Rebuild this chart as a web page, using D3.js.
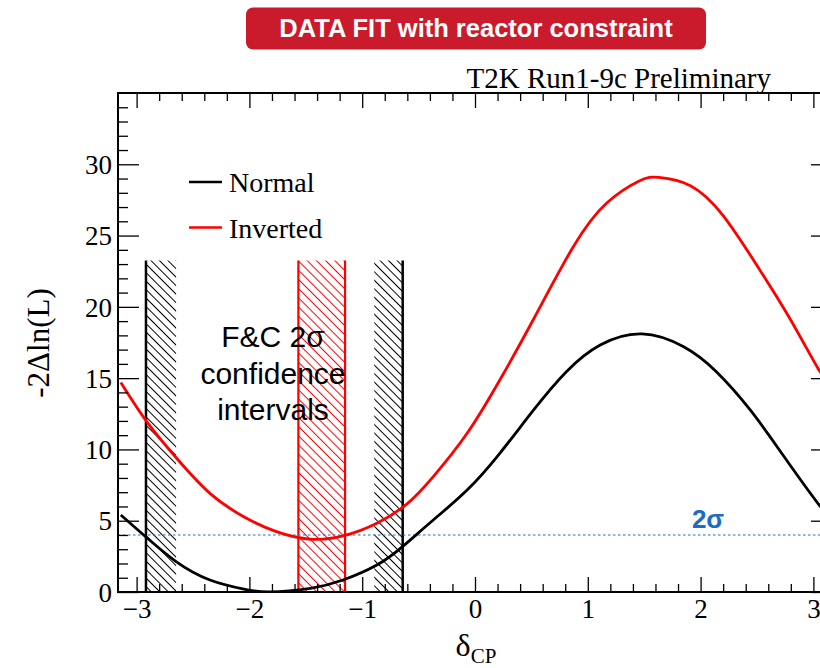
<!DOCTYPE html>
<html>
<head>
<meta charset="utf-8">
<script src="https://cdn.jsdelivr.net/npm/d3@7/dist/d3.min.js"></script>
<style>
  html, body { margin: 0; padding: 0; background: #fff; }
  svg { display: block; }
</style>
</head>
<body>
<svg id="chart" width="820" height="668"></svg>
<script>
// ---------------- DATA ----------------
const deltaNormal = [-3.14, -2.92, -2.65, -2.35, -2.05, -1.82, -1.46, -1.17, -0.87, -0.64, -0.37, -0.07, 0.22, 0.52, 0.81, 1.11, 1.48, 1.85, 2.14, 2.44, 2.73, 3.04, 3.14];
const chi2Normal  = [5.4, 3.88, 2.13, 0.84, 0.2, 0.0, 0.26, 0.84, 1.89, 3.2, 5.05, 7.15, 9.73, 12.77, 15.45, 17.32, 18.1, 17.2, 15.45, 12.77, 9.61, 6.22, 5.4];

const deltaInverted = [-3.14, -2.91, -2.645, -2.35, -2.05, -1.76, -1.46, -1.17, -0.87, -0.6, -0.37, -0.07, 0.22, 0.52, 0.87, 1.17, 1.46, 1.63, 1.91, 2.2, 2.5, 2.79, 3.04, 3.14];
const chi2Inverted  = [14.7, 11.95, 9.38, 6.92, 5.28, 4.23, 3.7, 3.93, 4.82, 6.2, 8.09, 11.13, 14.87, 19.15, 24.2, 27.3, 28.85, 29.08, 28.5, 26.4, 22.9, 19.2, 15.7, 14.7];

// F&C 2 sigma intervals: [boundary, hatch inner edge]
const normalBandLeft  = [-2.917, -2.65];
const normalBandRight = [-0.893, -0.641];
const invertedBand    = [-1.566, -1.152];
const bandTop = 23.25;

const sigmaLevel = 4;
const xTicks = [-3, -2, -1, 0, 1, 2, 3];
const yTicks = [0, 5, 10, 15, 20, 25, 30];
const seriesNames = ["Normal", "Inverted"];
const seriesColors = ["#000000", "#ff0000"];

// ---------------- LAYOUT ----------------
const svg = d3.select("#chart");
const pLeft = 118, pRight = 832, pTop = 93, pBottom = 592;
const x = d3.scaleLinear().domain([-3.165, 3.165]).range([pLeft, pRight]);
const y = d3.scaleLinear().domain([0, 35]).range([pBottom, pTop]);

const defs = svg.append("defs");
defs.append("clipPath").attr("id", "clip").append("rect")
  .attr("x", pLeft).attr("y", pTop).attr("width", pRight - pLeft).attr("height", pBottom - pTop);

function hatch(id, color, spacing) {
  const p = defs.append("pattern").attr("id", id)
    .attr("patternUnits", "userSpaceOnUse")
    .attr("width", spacing).attr("height", spacing)
    .attr("patternTransform", "rotate(-45)");
  p.append("line").attr("x1", 0.5).attr("y1", 0).attr("x2", 0.5).attr("y2", spacing)
    .attr("stroke", color).attr("stroke-width", 1);
}
hatch("hatchBlack", "#000", 6);
hatch("hatchRed", "#ff0000", 6.5);

// ---------------- TITLE BANNER ----------------
svg.append("rect").attr("x", 246).attr("y", 7.5).attr("width", 460).attr("height", 42)
  .attr("rx", 7).attr("fill", "#c91b2b");
svg.append("text").attr("x", 476).attr("y", 37).attr("text-anchor", "middle")
  .attr("font-family", "Liberation Sans, Arial, sans-serif").attr("font-weight", "bold")
  .attr("font-size", 25.5).attr("fill", "#fff").text("DATA FIT with reactor constraint");

svg.append("text").attr("x", 771).attr("y", 88).attr("text-anchor", "end")
  .attr("font-family", "Liberation Serif, Times New Roman, serif")
  .attr("font-size", 29).attr("fill", "#000").text("T2K Run1-9c Preliminary");

const plot = svg.append("g").attr("clip-path", "url(#clip)");

// ---------------- BANDS ----------------
function band(range, fill) {
  plot.append("rect")
    .attr("x", x(Math.min(range[0], range[1])))
    .attr("y", y(bandTop))
    .attr("width", Math.abs(x(range[1]) - x(range[0])))
    .attr("height", y(0) - y(bandTop))
    .attr("fill", fill);
}
band(normalBandLeft, "url(#hatchBlack)");
band(normalBandRight, "url(#hatchBlack)");
band(invertedBand, "url(#hatchRed)");

function vline(v, color, w) {
  plot.append("line").attr("x1", x(v)).attr("x2", x(v))
    .attr("y1", y(bandTop)).attr("y2", y(0))
    .attr("stroke", color).attr("stroke-width", w);
}
vline(normalBandLeft[0], "#000", 2.5);
vline(normalBandRight[1], "#000", 2.5);
vline(invertedBand[0], "#ff0000", 2.2);
vline(invertedBand[1], "#ff0000", 2.2);

// ---------------- 2 sigma line ----------------
plot.append("line").attr("x1", pLeft).attr("x2", pRight)
  .attr("y1", y(sigmaLevel)).attr("y2", y(sigmaLevel))
  .attr("stroke", "#1f6fc5").attr("stroke-width", 1.1).attr("stroke-dasharray", "2.5,2.5");
svg.append("text").attr("x", 708).attr("y", 527.5).attr("text-anchor", "middle")
  .attr("font-family", "Liberation Sans, Arial, sans-serif").attr("font-weight", "bold")
  .attr("font-size", 26).attr("fill", "#1a6cc4").text("2σ");

// ---------------- CURVES ----------------
const line = d3.line().x(d => x(d[0])).y(d => y(d[1])).curve(d3.curveNatural);
const normalPts = deltaNormal.map((d, i) => [d, chi2Normal[i]]);
const invertedPts = deltaInverted.map((d, i) => [d, chi2Inverted[i]]);
plot.append("path").datum(invertedPts).attr("d", line)
  .attr("fill", "none").attr("stroke", seriesColors[1]).attr("stroke-width", 2.8);
plot.append("path").datum(normalPts).attr("d", line)
  .attr("fill", "none").attr("stroke", seriesColors[0]).attr("stroke-width", 2.8);

// ---------------- F&C TEXT ----------------
const fc = svg.append("text").attr("text-anchor", "middle")
  .attr("font-family", "Liberation Sans, Arial, sans-serif").attr("font-size", 30).attr("fill", "#000");
[["F&C 2σ", 347], ["confidence", 384], ["intervals", 420]].forEach(([t, yy]) => {
  fc.append("tspan").attr("x", 273).attr("y", yy).text(t);
});

// ---------------- AXES ----------------
const xMinor = d3.range(-15, 16).map(i => i / 5).filter(v => !Number.isInteger(Math.round(v * 1000) / 1000));
const yMinor = d3.range(0, 36).filter(v => v % 5 !== 0);

const axisStyle = g => {
  g.select(".domain").remove();
  g.selectAll("line").attr("stroke", "#000").attr("stroke-width", 1.3);
};

// bottom
svg.append("g").attr("transform", `translate(0,${pBottom})`)
  .call(d3.axisBottom(x).tickValues(xMinor).tickSize(-8).tickFormat(""))
  .call(axisStyle);
const bx = svg.append("g").attr("transform", `translate(0,${pBottom})`)
  .call(d3.axisBottom(x).tickValues(xTicks).tickSize(-15).tickPadding(0).tickFormat(d3.format("d")))
  .call(axisStyle);
bx.selectAll("text").attr("font-family", "Liberation Serif, Times New Roman, serif")
  .attr("font-size", 27).attr("fill", "#000").attr("dy", null).attr("y", 26);

// top
svg.append("g").attr("transform", `translate(0,${pTop})`)
  .call(d3.axisTop(x).tickValues(xMinor).tickSize(-8).tickFormat(""))
  .call(axisStyle);
svg.append("g").attr("transform", `translate(0,${pTop})`)
  .call(d3.axisTop(x).tickValues(xTicks).tickSize(-15).tickFormat(""))
  .call(axisStyle);

// left
svg.append("g").attr("transform", `translate(${pLeft},0)`)
  .call(d3.axisLeft(y).tickValues(yMinor).tickSize(-10).tickFormat(""))
  .call(axisStyle);
const ly = svg.append("g").attr("transform", `translate(${pLeft},0)`)
  .call(d3.axisLeft(y).tickValues(yTicks).tickSize(-21).tickPadding(6).tickFormat(d3.format("d")))
  .call(axisStyle);
ly.selectAll("text").attr("font-family", "Liberation Serif, Times New Roman, serif")
  .attr("font-size", 27).attr("fill", "#000").attr("x", -6).attr("dy", "0.34em");

// right
svg.append("g").attr("transform", `translate(${pRight},0)`)
  .call(d3.axisRight(y).tickValues(yMinor).tickSize(-10).tickFormat(""))
  .call(axisStyle);
svg.append("g").attr("transform", `translate(${pRight},0)`)
  .call(d3.axisRight(y).tickValues(yTicks).tickSize(-21).tickFormat(""))
  .call(axisStyle);

// frame
svg.append("rect").attr("x", pLeft).attr("y", pTop).attr("width", pRight - pLeft).attr("height", pBottom - pTop)
  .attr("fill", "none").attr("stroke", "#000").attr("stroke-width", 2);

// axis titles
svg.append("text").attr("transform", `translate(49,343) rotate(-90)`).attr("text-anchor", "middle")
  .attr("font-family", "Liberation Serif, Times New Roman, serif").attr("font-size", 31).attr("fill", "#000")
  .text("-2Δln(L)");
const xt = svg.append("text").attr("x", 476).attr("y", 656).attr("text-anchor", "middle")
  .attr("font-family", "Liberation Serif, Times New Roman, serif").attr("fill", "#000");
xt.append("tspan").attr("font-size", 32).text("δ");
xt.append("tspan").attr("font-size", 21).attr("dy", 7).text("CP");

// ---------------- LEGEND ----------------
const leg = svg.append("g");
seriesNames.forEach((name, i) => {
  const yy = 182 + i * 45.5;
  leg.append("line").attr("x1", 189).attr("x2", 222).attr("y1", yy).attr("y2", yy)
    .attr("stroke", seriesColors[i]).attr("stroke-width", 2.5);
  leg.append("text").attr("x", 229).attr("y", yy + 10).attr("font-family", "Liberation Serif, Times New Roman, serif")
    .attr("font-size", 28).attr("fill", "#000").text(name);
});
</script>
</body>
</html>
